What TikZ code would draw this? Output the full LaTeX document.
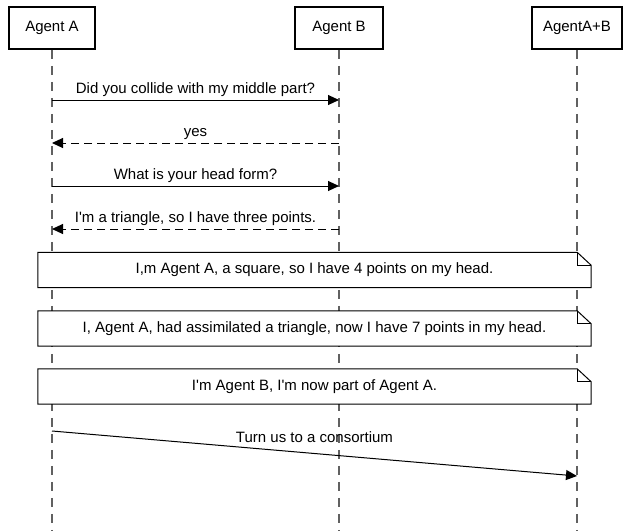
\documentclass[tikz,border=0pt]{standalone}
\usepackage{fontspec}
\setmainfont{Liberation Sans}
\usetikzlibrary{arrows.meta, positioning}

\begin{document}
\begin{tikzpicture}[x=1pt, y=-1pt,
  txt/.style={font=\fontsize{15}{18}\selectfont},
  actor/.style={txt, draw, line width=1.6pt, minimum height=42pt, inner sep=0pt},
  lifeline/.style={draw=black!62, line width=1.3pt, dash pattern=on 9pt off 7pt},
  msg/.style={-{Triangle[length=11pt,width=10pt]}, line width=1pt},
  reply/.style={msg, dash pattern=on 8pt off 5pt},
  notebox/.style={txt, minimum width=553pt, minimum height=35pt, inner sep=0pt, fill=white},
  notefold/.style={line width=1pt, line join=miter}]
\useasboundingbox (0,0) rectangle (624,531);

% Define the lifeline positions
\pgfmathsetmacro{\xA}{52}
\pgfmathsetmacro{\xB}{339}
\pgfmathsetmacro{\xC}{577}
\pgfmathsetmacro{\yEnd}{531}

% Participants
\node[actor, minimum width=86pt] (agentA) at (\xA,28) {Agent A};
\node[actor, minimum width=88pt] (agentB) at (\xB,28) {Agent B};
\node[actor, minimum width=90pt] (agentAB) at (\xC,28) {AgentA+B};

% Lifelines
\coordinate (endA) at (\xA,\yEnd);
\coordinate (endB) at (\xB,\yEnd);
\coordinate (endAB) at (\xC,\yEnd);
\draw[lifeline] (agentA) -- (endA);
\draw[lifeline] (agentB) -- (endB);
\draw[lifeline] (agentAB) -- (endAB);

% Points on the lifelines
\foreach \y/\n in {100/1, 143/2, 186/3, 229/4} {
  \coordinate (a\n) at (\xA,\y);
  \coordinate (b\n) at (\xB,\y);
}
\coordinate (a5) at (\xA,431);
\coordinate (c5) at (\xC,476);

% Messages
\draw[msg] (a1) -- node[txt, above=0pt] {Did you collide with my middle part?} (b1);
\draw[reply] (b2) -- node[txt, above=0pt] {yes} (a2);
\draw[msg] (a3) -- node[txt, above=0pt] {What is your head form?} (b3);
\draw[reply] (b4) -- node[txt, above=0pt] {I\textquotesingle m a triangle, so I have three points.} (a4);

% Notes
\node[notebox] (note1) at (314.5,270) {I,m Agent A, a square, so I have 4 points on my head.};
\node[notebox] (note2) at (314.5,328.5) {I, Agent A, had assimilated a triangle, now I have 7 points in my head.};
\node[notebox] (note3) at (314.5,386.5) {I\textquotesingle m Agent B, I\textquotesingle m now part of Agent A.};
\foreach \n in {note1, note2, note3} {
  \draw[notefold] (\n.north west) -- ([xshift=-14pt]\n.north east)
    -- ([yshift=-13pt]\n.north east) -- (\n.south east) -- (\n.south west) -- cycle;
  \draw[notefold] ([xshift=-14pt]\n.north east) -- ([xshift=-14pt,yshift=-13pt]\n.north east)
    -- ([yshift=-13pt]\n.north east);
}

% Merge
\draw[msg] (a5) -- node[txt, above=7pt] {Turn us to a consortium} (c5);

\end{tikzpicture}
\end{document}
